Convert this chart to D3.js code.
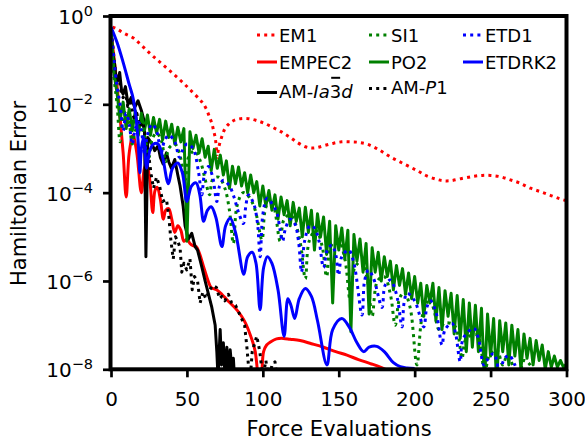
<!DOCTYPE html>
<html>
<head>
<meta charset="utf-8">
<script src="https://cdn.jsdelivr.net/npm/d3@7"></script>
<style>
  body { margin: 0; background: #fff; }
  svg { display: block; }
  text { font-family: "DejaVu Sans", sans-serif; fill: #000; }
</style>
</head>
<body>
<svg id="chart" width="585" height="441"></svg>
<script>
// Axis ticks
const xTicks = [0, 50, 100, 150, 200, 250, 300];
const yTickExps = [0, -2, -4, -6, -8];

// Each series: [force evaluations, log10(Hamiltonian error)]
const em1 = [[1,-0.25],[4.2,-0.30],[9,-0.40],[14.7,-0.50],[20,-0.66],[25.7,-0.85],[31,-1.01],[36.7,-1.18],[42,-1.34],[47.7,-1.52],[53,-1.70],[58.7,-1.90],[61,-2.0],[63.1,-2.13],[65,-2.3],[66.4,-2.43],[67.6,-2.6],[68.6,-2.75],[69.3,-2.95],[70,-3.2],[70.8,-3.0],[71.9,-2.85],[73.5,-2.68],[75.2,-2.54],[77.5,-2.45],[79.6,-2.39],[83,-2.34],[87.2,-2.32],[91.5,-2.33],[96.1,-2.37],[101,-2.43],[107,-2.53],[112.5,-2.63],[118,-2.75],[123,-2.87],[128,-2.96],[132,-2.99],[135.6,-2.98],[141,-2.93],[146.6,-2.88],[152,-2.85],[157.6,-2.85],[163,-2.86],[168.6,-2.9],[176,-3.02],[184,-3.19],[193,-3.35],[201.6,-3.50],[208,-3.62],[214.7,-3.70],[219,-3.73],[223.5,-3.73],[231,-3.68],[238.9,-3.63],[244.5,-3.61],[249.9,-3.61],[256.5,-3.64],[263,-3.71],[269,-3.78],[276.3,-3.90],[283,-3.98],[289.4,-4.06],[295.6,-4.14],[300,-4.18]];

const empec2 = [[0,-0.35],[2,-0.95],[4,-1.6],[6,-2.3],[8,-3.1],[10,-4.1],[12,-3.1],[14.5,-2.7],[17,-3.1],[20,-4.0],[22,-3.45],[23.5,-3.35],[25.5,-3.7],[27.5,-4.45],[29,-3.95],[30.5,-3.88],[32.5,-4.15],[34.5,-4.6],[36,-4.4],[38,-4.36],[40,-4.6],[42,-4.9],[44,-4.75],[46,-4.85],[48,-5.1],[50,-5.05],[52,-5.15],[54,-5.2],[56,-5.22],[58,-5.35],[61,-5.68],[64,-6.0],[66,-6.15],[69.5,-6.2],[73,-6.3],[76.5,-6.43],[80,-6.55],[83,-6.66],[86,-6.8],[88.5,-6.95],[91.5,-7.2],[93.5,-7.4],[95,-7.6],[96.2,-7.95],[97.5,-8.4],[99,-8.2],[100.5,-7.6],[102.5,-7.45],[105,-7.38],[109,-7.31],[113.5,-7.3],[118,-7.32],[124.5,-7.35],[132,-7.42],[140,-7.5],[148,-7.6],[155.4,-7.68],[163,-7.78],[170.8,-7.87],[177.4,-7.95],[184,-8.05]];

const amIa3d = [[0,-0.30],[1,-0.8],[2.4,-1.1],[3.5,-1.5],[4.6,-1.46],[5.7,-1.28],[7,-1.7],[8,-1.77],[9.5,-1.6],[11.2,-2.0],[13.4,-1.84],[15.6,-2.07],[17.8,-1.92],[20,-2.14],[22,-2.4],[23,-5.45],[24.2,-2.75],[25.5,-2.82],[27,-2.9],[28.8,-3.05],[31,-2.94],[32.5,-3.2],[34.3,-3.35],[36.5,-3.1],[38,-3.3],[39.8,-3.45],[42,-3.25],[44,-3.6],[45.5,-3.85],[47.5,-4.3],[48.8,-4.75],[51,-5.05],[53.2,-4.92],[55.4,-5.22],[57,-5.3],[59.8,-5.68],[62,-6.0],[64.2,-6.3],[66.4,-6.6],[68.6,-7.0],[69.7,-7.6],[70.5,-8.2],[71.9,-7.1],[72.8,-7.9],[74,-7.4],[75,-8.1],[76.3,-7.5],[77.5,-8.1],[78.5,-7.56],[79.6,-8.0],[80.6,-7.75],[81.5,-8.3]];

const si1 = [[0,-0.4],[2,-1.4],[4,-2.0],[6,-2.85],[8,-2.3],[10,-2.15],[12,-2.4],[14,-2.9],[16,-2.6],[19,-2.45],[22,-2.7],[25,-3.2],[27,-2.8],[30,-2.65],[33,-2.8],[36,-3.3],[38,-3.0],[42,-2.9],[45,-3.1],[49,-3.7],[51,-3.2],[55,-3.05],[59,-3.3],[62,-3.7],[65,-4.05],[67,-3.7],[71,-3.65],[75,-3.9],[78,-4.4],[80.6,-5.15],[83,-4.3],[87,-4.0],[91,-4.1],[95,-4.4],[99.4,-5.07],[101.5,-4.4],[104.5,-4.15],[107.5,-4.35],[111.4,-5.1],[114,-4.6],[118,-4.5],[122,-4.75],[125,-5.2],[128,-5.95],[130.5,-5.1],[135,-4.85],[139,-5.2],[142,-5.9],[145,-5.2],[150,-5.1],[154,-5.5],[157.6,-6.45],[160.5,-5.7],[165,-5.55],[169,-6.0],[172,-6.8],[175.5,-6.0],[180,-5.9],[184,-6.3],[187.2,-7.0],[190,-6.4],[193,-6.25],[197,-6.6],[201.5,-7.9],[205,-6.8],[210,-6.4],[213,-6.7],[216,-7.1],[220,-6.95],[226,-7.0],[229,-7.3],[231.2,-7.75],[234,-7.3],[241,-7.22],[244,-7.6],[246,-8.2],[249,-7.7],[254,-7.55],[258,-7.9],[261,-7.68],[265,-7.95],[268,-8.3],[272,-7.8],[276,-7.9],[280,-8.4]];

const po2 = [[0,-0.30],[2,-1.30],[4,-1.75],[6,-2.35],[8,-1.95],[10,-2.55],[12,-2.10],[14,-2.60],[16,-2.15],[18,-2.70],[20,-2.20],[22,-2.60],[24,-2.24],[26,-2.70],[28,-2.30],[30,-2.65],[32,-2.34],[34,-2.80],[36,-2.38],[38,-2.75],[40,-2.45],[42,-2.90],[44,-2.52],[46,-2.85],[48,-2.55],[50,-5.10],[52,-2.62],[54,-3.00],[56,-2.70],[58,-3.10],[60,-2.78],[62,-3.20],[64,-2.95],[66,-3.50],[68,-3.02],[70,-3.45],[72,-3.15],[74,-3.60],[76,-3.28],[78,-3.90],[80,-3.40],[82,-3.80],[84,-3.42],[86,-3.85],[88,-3.55],[90,-4.00],[92,-3.60],[94,-4.00],[96,-3.75],[98,-4.30],[100,-3.85],[102,-4.30],[104,-3.95],[106,-4.40],[108,-4.05],[110,-4.60],[112,-4.10],[114,-4.50],[116,-4.18],[118,-4.75],[120,-4.22],[122,-4.65],[124,-4.35],[126,-5.00],[128,-4.33],[130,-4.90],[132,-4.40],[134,-5.30],[136,-4.48],[138,-5.00],[140,-4.55],[142,-5.40],[144,-4.65],[146,-6.50],[148,-4.75],[150,-5.30],[152,-4.80],[154,-5.50],[156,-4.85],[158,-7.15],[160,-4.95],[162,-5.55],[164,-5.05],[166,-5.80],[168,-5.15],[170,-6.75],[172,-5.25],[174,-5.80],[176,-5.35],[178,-6.00],[180,-5.45],[182,-5.90],[184,-5.55],[186,-6.20],[188,-5.65],[190,-6.10],[192,-5.72],[194,-6.30],[196,-5.82],[198,-6.40],[200,-5.90],[202,-6.50],[204,-6.05],[206,-6.80],[208,-6.10],[210,-6.50],[212,-6.05],[214,-6.90],[216,-6.15],[218,-7.10],[220,-6.22],[222,-6.80],[224,-6.28],[226,-7.20],[228,-6.33],[230,-7.30],[232,-6.42],[234,-7.60],[236,-6.50],[238,-7.50],[240,-6.55],[242,-7.60],[244,-6.62],[246,-8.30],[248,-6.75],[250,-7.70],[252,-6.85],[254,-8.30],[256,-6.90],[258,-7.60],[260,-6.95],[262,-7.90],[264,-7.00],[266,-7.70],[268,-7.10],[270,-8.00],[272,-7.20],[274,-7.75],[276,-7.30],[278,-7.90],[280,-7.35],[282,-7.80],[284,-7.45],[286,-8.00],[288,-7.60],[290,-7.95],[292,-7.70],[294,-7.95],[296,-7.80],[298,-7.95],[300,-7.88]];

const amP1 = [[0,-0.35],[1,-0.6],[2.6,-1.18],[3.8,-1.45],[5,-1.3],[6.5,-1.7],[8,-1.85],[9.5,-1.7],[11,-2.05],[13,-1.95],[15,-2.3],[17,-2.2],[19,-2.5],[21,-2.4],[23,-2.8],[25,-3.2],[26.5,-3.6],[28,-3.9],[30,-3.65],[32,-3.85],[34,-4.2],[36.5,-4.15],[38,-4.5],[39.5,-5.1],[41,-5.5],[42.5,-5.0],[44,-5.1],[45.5,-5.25],[46.6,-5.8],[48,-5.6],[49.9,-5.75],[52,-5.5],[53.5,-6.2],[55,-5.9],[57,-6.0],[58.7,-6.5],[60.5,-6.25],[62.5,-6.4],[65,-6.2],[67,-6.1],[69.5,-6.15],[71.5,-6.4],[73,-6.35],[75,-6.45],[77.3,-6.3],[79.5,-6.5],[82,-6.55],[84,-6.7],[86,-6.85],[88,-7.0],[89.5,-7.5],[90.5,-7.9],[91.5,-8.3],[93,-7.6],[96,-7.25],[98,-7.6],[100,-8.2],[102,-7.8],[104,-8.3],[106,-7.9],[108,-7.83],[110,-8.4]];

const etd1 = [[0,-0.35],[2,-1.0],[4,-1.6],[6,-2.0],[8,-2.6],[10,-2.2],[12,-2.45],[14,-2.9],[16,-2.55],[18,-2.4],[20,-2.6],[22,-3.1],[24,-2.7],[27,-2.45],[30,-2.6],[33,-3.1],[35,-2.85],[38,-2.7],[42,-2.85],[45,-3.2],[47,-3.05],[50,-2.9],[54,-3.0],[57.5,-3.5],[59.8,-4.05],[61.5,-3.6],[64.2,-3.41],[67,-3.65],[69.7,-4.2],[71.5,-3.85],[74,-3.72],[78,-3.85],[81,-4.1],[84,-4.45],[87.2,-4.7],[88.8,-4.3],[90.5,-4.05],[94,-4.25],[96.5,-4.7],[98.2,-5.45],[100,-4.5],[102.7,-4.13],[106,-4.25],[109.2,-4.45],[111.4,-4.85],[113,-5.1],[115,-4.8],[118,-4.6],[121,-4.7],[123.5,-5.1],[125.5,-5.8],[127.5,-5.1],[131,-4.75],[134,-4.8],[137,-5.1],[140,-5.7],[142.5,-5.3],[145.5,-5.19],[148,-5.4],[149.9,-5.87],[152,-5.45],[156.5,-5.3],[160,-5.6],[165.3,-6.77],[167,-6.0],[169.6,-5.75],[173,-5.95],[178.5,-6.6],[180.5,-6.1],[184,-5.98],[188,-6.3],[191.7,-7.04],[193,-6.5],[195,-6.28],[200,-6.45],[206,-7.04],[208,-6.6],[210.3,-6.45],[214,-6.7],[218,-7.45],[220,-7.1],[224.6,-6.96],[227,-7.2],[230,-7.83],[232,-7.3],[238.9,-7.07],[242,-7.3],[245.5,-7.9],[247.5,-7.8],[252,-7.64],[254,-7.8],[256,-8.2],[258.5,-7.8],[262,-7.68],[266,-7.9],[270,-8.3]];

const etdrk2 = [[0,-0.25],[4,-0.6],[8,-1.05],[12,-1.55],[14.5,-1.85],[16.5,-2.3],[18,-2.9],[19,-3.55],[20,-3.0],[21.5,-2.75],[23.5,-3.45],[25.5,-3.05],[28,-2.9],[31,-2.9],[34,-3.2],[37.8,-3.8],[40.5,-3.45],[44,-3.33],[47,-3.55],[50,-4.2],[53,-3.85],[56,-3.78],[58.5,-4.05],[61,-4.65],[63.5,-4.4],[66,-4.32],[69,-4.55],[73,-5.22],[75.5,-4.75],[78.5,-4.58],[82,-4.9],[87.5,-5.85],[90,-5.45],[93,-5.35],[95.5,-5.6],[98.2,-6.65],[100.5,-5.7],[103,-5.45],[106,-5.6],[110,-6.2],[114,-7.25],[116.5,-6.4],[118.5,-6.55],[121,-6.85],[124,-6.4],[128,-6.17],[132,-6.35],[136,-6.9],[142.2,-7.9],[146,-7.1],[152,-6.85],[157,-7.05],[162,-7.4],[166.4,-7.6],[170,-7.5],[175,-7.48],[180,-7.6],[186,-7.85],[190.5,-7.94],[195,-7.97],[200,-7.98]];

// Series styles, in drawing order
const series = [
  { name: "EM1",     data: em1,    color: "#ff0000", dotted: true,  smooth: true  },
  { name: "EMPEC2",  data: empec2, color: "#ff0000", dotted: false, smooth: true  },
  { name: "AM-Ia3d", data: amIa3d, color: "#000000", dotted: false, smooth: false },
  { name: "SI1",     data: si1,    color: "#008000", dotted: true,  smooth: true  },
  { name: "PO2",     data: po2,    color: "#008000", dotted: false, smooth: false },
  { name: "AM-P1",   data: amP1,   color: "#000000", dotted: true,  smooth: false },
  { name: "ETD1",    data: etd1,   color: "#0000ff", dotted: true,  smooth: true  },
  { name: "ETDRK2",  data: etdrk2, color: "#0000ff", dotted: false, smooth: true  }
];

const LW = 3;
const DOTS = "3,4.2";

const svg = d3.select("#chart");
const x = d3.scaleLinear().domain([0, 300]).range([111, 566.5]);
const y = d3.scaleLog().domain([1e-8, 1]).range([369.3, 16]);

svg.append("defs").append("clipPath").attr("id", "plotClip")
  .append("rect")
  .attr("x", x(0)).attr("y", y(1))
  .attr("width", x(300) - x(0)).attr("height", y(1e-8) - y(1));

const plot = svg.append("g").attr("clip-path", "url(#plotClip)");

series.forEach(s => {
  const line = d3.line()
    .x(d => x(d[0]))
    .y(d => y(Math.pow(10, d[1])))
    .curve(s.smooth ? d3.curveCatmullRom.alpha(0.5) : d3.curveLinear);
  plot.append("path")
    .attr("d", line(s.data))
    .attr("fill", "none")
    .attr("stroke", s.color)
    .attr("stroke-width", LW)
    .attr("stroke-linejoin", "round")
    .attr("stroke-dasharray", s.dotted ? DOTS : null);
});

// Axes
const gx = svg.append("g").attr("transform", `translate(0,${y(1e-8)})`)
  .call(d3.axisBottom(x).tickValues(xTicks).tickSize(8).tickSizeOuter(0).tickPadding(14.5));
const gy = svg.append("g").attr("transform", `translate(${x(0)},0)`)
  .call(d3.axisLeft(y).tickValues(yTickExps.map(e => Math.pow(10, e))).tickSize(8).tickSizeOuter(0).tickPadding(10));

[gx, gy].forEach(g => {
  g.select(".domain").remove();
  g.selectAll(".tick line").attr("stroke", "#000").attr("stroke-width", 2.7);
  g.selectAll(".tick text").attr("font-size", 20).attr("font-family", "DejaVu Sans").attr("fill", "#000");
});

gy.selectAll(".tick text").each(function(d) {
  const e = Math.round(Math.log10(d));
  const t = d3.select(this).text(null).attr("dy", "0.38em");
  t.append("tspan").text("10");
  t.append("tspan").attr("dy", -8).attr("font-size", 14.5)
    .text(e === 0 ? "0" : "\u2212" + Math.abs(e));
});

// Frame
svg.append("rect")
  .attr("x", x(0) - 0.5).attr("y", y(1))
  .attr("width", x(300) - x(0) + 0.5).attr("height", y(1e-8) - y(1))
  .attr("fill", "none").attr("stroke", "#000").attr("stroke-width", 4);

// Axis labels
svg.append("text")
  .attr("x", 339).attr("y", 436)
  .attr("text-anchor", "middle").attr("font-size", 21)
  .text("Force Evaluations");
svg.append("text")
  .attr("transform", "translate(26,193.5) rotate(-90)")
  .attr("text-anchor", "middle").attr("font-size", 21)
  .text("Hamiltonian Error");

// Legend (three columns, filled column by column)
const legendCols = [257, 369, 463];
const legendItems = [
  { col: 0, lineY: 35,   textY: 41.7, s: series[0], parts: [["EM1", false]] },
  { col: 0, lineY: 62,   textY: 69.3, s: series[1], parts: [["EMPEC2", false]] },
  { col: 0, lineY: 92.5, textY: 98.3, s: series[2], parts: [["AM-", false], ["Ia", true], ["3", false], ["d", true]], bar: 5 },
  { col: 1, lineY: 35,   textY: 41.7, s: series[3], parts: [["SI1", false]] },
  { col: 1, lineY: 62,   textY: 69.3, s: series[4], parts: [["PO2", false]] },
  { col: 1, lineY: 88.5, textY: 93.5, s: series[5], parts: [["AM-", false], ["P", true], ["1", false]] },
  { col: 2, lineY: 35,   textY: 41.7, s: series[6], parts: [["ETD1", false]] },
  { col: 2, lineY: 62,   textY: 69.3, s: series[7], parts: [["ETDRK2", false]] }
];

const legend = svg.append("g");
legendItems.forEach(it => {
  const x0 = legendCols[it.col];
  legend.append("line")
    .attr("x1", x0).attr("x2", x0 + 20)
    .attr("y1", it.lineY).attr("y2", it.lineY)
    .attr("stroke", it.s.color).attr("stroke-width", LW)
    .attr("stroke-dasharray", it.s.dotted ? DOTS : null);
  const t = legend.append("text")
    .attr("x", x0 + 22).attr("y", it.textY)
    .attr("font-size", 18);
  it.parts.forEach(p => {
    t.append("tspan").attr("font-style", p[1] ? "italic" : null).text(p[0]);
  });
  if (it.bar !== undefined) {
    const node = t.node();
    const bx = x0 + 22 + node.getSubStringLength(0, it.bar);
    const bw = node.getSubStringLength(it.bar, 1);
    legend.append("line")
      .attr("x1", bx + 1.5).attr("x2", bx + bw - 1)
      .attr("y1", it.textY - 20.5).attr("y2", it.textY - 20.5)
      .attr("stroke", "#000").attr("stroke-width", 2);
  }
});
</script>
</body>
</html>
